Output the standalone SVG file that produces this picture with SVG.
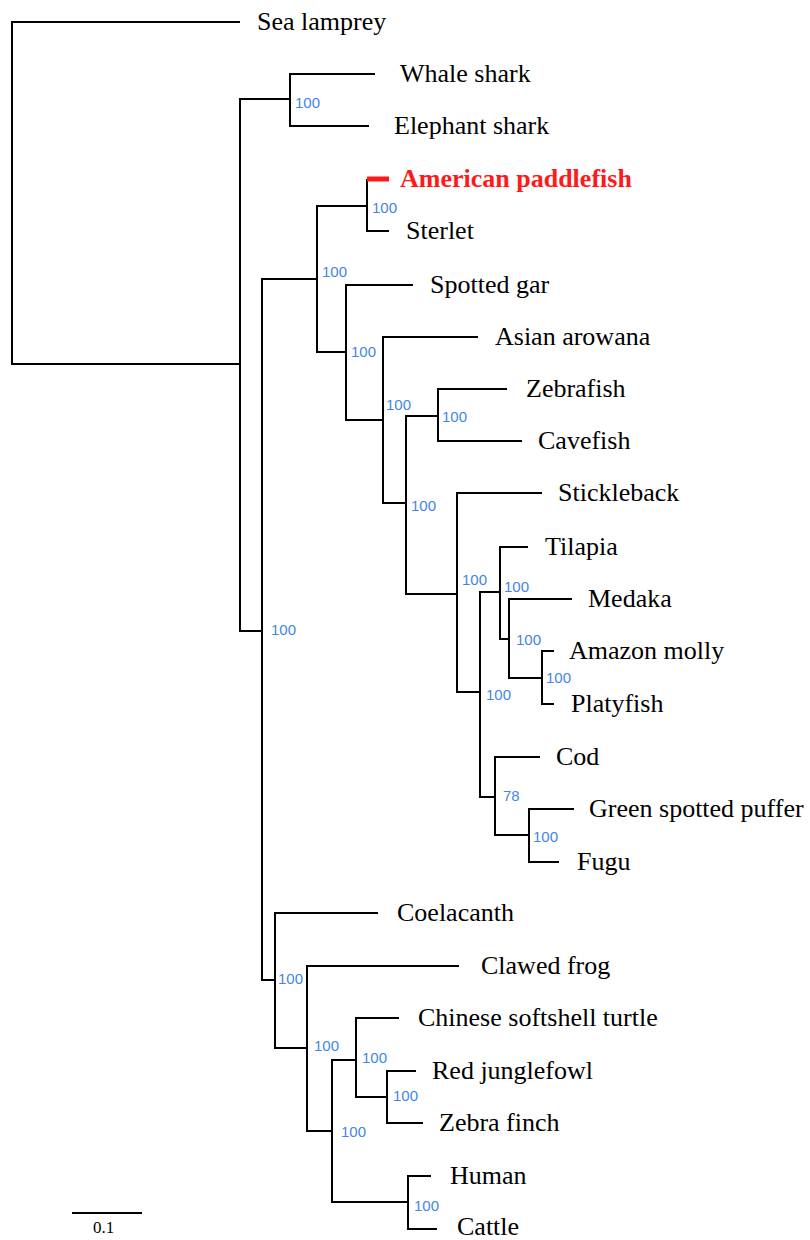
<svg xmlns="http://www.w3.org/2000/svg" width="810" height="1240" viewBox="0 0 810 1240">
<style>
.br{fill:none;stroke:#000;stroke-width:2;stroke-linejoin:miter;stroke-linecap:butt}
.hl{fill:none;stroke:#ff1a1a;stroke-width:5}
.sp{font-family:"Liberation Serif","Times New Roman",serif;font-size:26px;fill:#000}
.red{fill:#ff1a1a;font-weight:bold}
.bs{font-family:"Liberation Sans",Arial,sans-serif;font-size:15px;fill:#3f86e8}
.sc{font-family:"Liberation Serif","Times New Roman",serif;font-size:17px;fill:#000}
</style>
<rect width="810" height="1240" fill="#fff"/>
<g id="connectors">
<path class="br" d="M240,22 H12 V364 H240"/>
<path class="br" d="M290,99 H240 V631 H262"/>
<path class="br" d="M375,74 H290 V126 H369"/>
<path class="br" d="M317,279 H262 V980 H275"/>
<path class="br" d="M367,206 H317 V352 H346"/>
<path class="br" d="M367,179 V231 H389"/>
<path class="hl" d="M367,179 H389"/>
<path class="br" d="M413,285 H346 V420 H383"/>
<path class="br" d="M478,337 H383 V503 H406"/>
<path class="br" d="M438,416 H406 V594 H457"/>
<path class="br" d="M507,389 H438 V441 H522"/>
<path class="br" d="M542,493 H457 V692 H480"/>
<path class="br" d="M500,592 H480 V797 H495"/>
<path class="br" d="M528,547 H500 V639 H509"/>
<path class="br" d="M572,599 H509 V678 H542"/>
<path class="br" d="M554,651 H542 V704 H554"/>
<path class="br" d="M540,757 H495 V835 H529"/>
<path class="br" d="M574,809 H529 V862 H559"/>
<path class="br" d="M378,913 H275 V1048 H307"/>
<path class="br" d="M459,966 H307 V1131 H332"/>
<path class="br" d="M356,1060 H332 V1202 H408"/>
<path class="br" d="M399,1018 H356 V1097 H387"/>
<path class="br" d="M416,1071 H387 V1123 H423"/>
<path class="br" d="M431,1176 H408 V1229 H437"/>
</g>
<g id="support">
<text class="bs" x="295" y="108">100</text>
<text class="bs" x="271" y="635">100</text>
<text class="bs" x="322" y="277">100</text>
<text class="bs" x="372" y="213">100</text>
<text class="bs" x="351" y="357">100</text>
<text class="bs" x="386" y="410">100</text>
<text class="bs" x="442" y="422">100</text>
<text class="bs" x="411" y="511">100</text>
<text class="bs" x="462" y="585">100</text>
<text class="bs" x="486" y="700">100</text>
<text class="bs" x="504" y="592">100</text>
<text class="bs" x="516" y="645">100</text>
<text class="bs" x="546" y="683">100</text>
<text class="bs" x="503" y="801">78</text>
<text class="bs" x="533" y="842">100</text>
<text class="bs" x="278" y="984">100</text>
<text class="bs" x="314" y="1051">100</text>
<text class="bs" x="341" y="1137">100</text>
<text class="bs" x="362" y="1063">100</text>
<text class="bs" x="393" y="1101">100</text>
<text class="bs" x="414" y="1211">100</text>
</g>
<g id="sea-lamprey"><text class="sp" x="257" y="30">Sea lamprey</text></g>
<g id="whale-shark"><text class="sp" x="400" y="82">Whale shark</text></g>
<g id="elephant-shark"><text class="sp" x="394" y="134">Elephant shark</text></g>
<g id="american-paddlefish"><text class="sp red" x="400" y="187">American paddlefish</text></g>
<g id="sterlet"><text class="sp" x="406" y="239">Sterlet</text></g>
<g id="spotted-gar"><text class="sp" x="430" y="293">Spotted gar</text></g>
<g id="asian-arowana"><text class="sp" x="495" y="345">Asian arowana</text></g>
<g id="zebrafish"><text class="sp" x="526" y="397">Zebrafish</text></g>
<g id="cavefish"><text class="sp" x="538" y="449">Cavefish</text></g>
<g id="stickleback"><text class="sp" x="558" y="501">Stickleback</text></g>
<g id="tilapia"><text class="sp" x="545" y="555">Tilapia</text></g>
<g id="medaka"><text class="sp" x="588" y="607">Medaka</text></g>
<g id="amazon-molly"><text class="sp" x="569" y="659">Amazon molly</text></g>
<g id="platyfish"><text class="sp" x="571" y="712">Platyfish</text></g>
<g id="cod"><text class="sp" x="556" y="765">Cod</text></g>
<g id="green-spotted-puffer"><text class="sp" x="589" y="817">Green spotted puffer</text></g>
<g id="fugu"><text class="sp" x="577" y="870">Fugu</text></g>
<g id="coelacanth"><text class="sp" x="397" y="921">Coelacanth</text></g>
<g id="clawed-frog"><text class="sp" x="481" y="974">Clawed frog</text></g>
<g id="chinese-softshell-turtle"><text class="sp" x="418" y="1026">Chinese softshell turtle</text></g>
<g id="red-junglefowl"><text class="sp" x="432" y="1079">Red junglefowl</text></g>
<g id="zebra-finch"><text class="sp" x="439" y="1131">Zebra finch</text></g>
<g id="human"><text class="sp" x="450" y="1184">Human</text></g>
<g id="cattle"><text class="sp" x="457" y="1235">Cattle</text></g>
<g id="scale-bar">
<path class="br" d="M72,1213 H142"/>
<text class="sc" x="93" y="1233">0.1</text>
</g>
</svg>
